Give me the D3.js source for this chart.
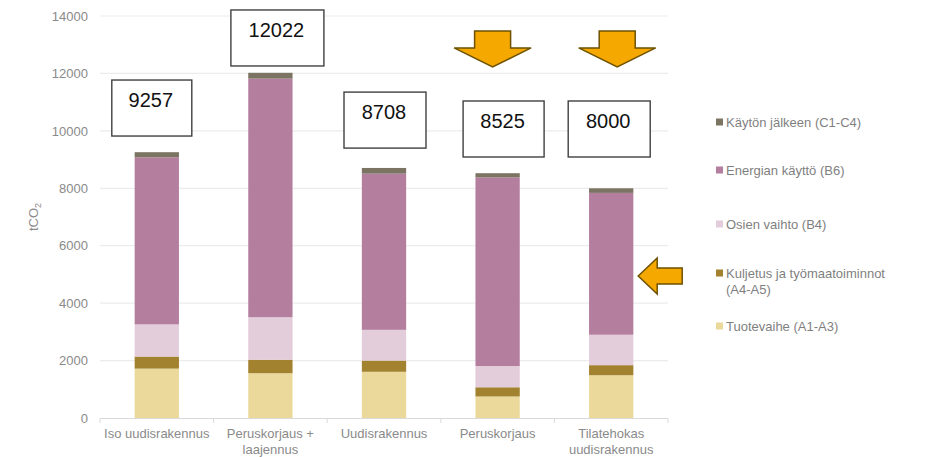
<!DOCTYPE html>
<html>
<head>
<meta charset="utf-8">
<style>
body { margin: 0; background: #fff; }
svg { font-family: "Liberation Sans", Arial, sans-serif; }
.axis .domain { display: none; }
</style>
</head>
<body>
<svg width="930" height="457"></svg>
<script src="https://d3js.org/d3.v7.min.js"></script>
<script>

// building types (x categories)
var categories = ["Iso uudisrakennus", "Peruskorjaus + laajennus", "Uudisrakennus", "Peruskorjaus", "Tilatehokas uudisrakennus"];
var categoryLines = [["Iso uudisrakennus"], ["Peruskorjaus +", "laajennus"], ["Uudisrakennus"], ["Peruskorjaus"], ["Tilatehokas", "uudisrakennus"]];

// stack series, bottom to top
var seriesNames = ["Tuotevaihe (A1-A3)", "Kuljetus ja työmaatoiminnot (A4-A5)", "Osien vaihto (B4)", "Energian käyttö (B6)", "Käytön jälkeen (C1-C4)"];
var tuotevaihe = [1720, 1560, 1610, 750, 1490];
var kuljetus   = [420, 470, 390, 320, 350];
var osienVaihto = [1120, 1480, 1070, 740, 1060];
var energia    = [5820, 8310, 5440, 6570, 4940];
var kaytonJalkeen = [177, 202, 198, 145, 160];
var totals = [9257, 12022, 8708, 8525, 8000];

var yTicks = [0, 2000, 4000, 6000, 8000, 10000, 12000, 14000];

var colors = ["#ead99b", "#a3822f", "#e3cddb", "#b47f9f", "#7b7462"];

var svg = d3.select("svg"),
    margin = {top: 16, left: 100, right: 262, bottom: 39},
    width = 930 - margin.left - margin.right,
    height = 457 - margin.top - margin.bottom;

var g = svg.append("g").attr("transform", "translate(" + margin.left + "," + margin.top + ")");

var x = d3.scaleBand()
    .domain(categories)
    .range([0, width])
    .paddingInner(0.61)
    .paddingOuter(0.305);

var y = d3.scaleLinear()
    .domain([0, 14000])
    .range([height, 0]);

var rows = categories.map(function(c, i) {
  return {cat: c, s0: tuotevaihe[i], s1: kuljetus[i], s2: osienVaihto[i], s3: energia[i], s4: kaytonJalkeen[i]};
});
var keys = ["s0", "s1", "s2", "s3", "s4"];
var stacked = d3.stack().keys(keys)(rows);

// gridlines
g.append("g")
  .selectAll("line")
  .data(yTicks.slice(1))
  .enter().append("line")
    .attr("x1", 0).attr("x2", width)
    .attr("y1", function(d) { return y(d); })
    .attr("y2", function(d) { return y(d); })
    .attr("stroke", "#ececec")
    .attr("stroke-width", 1.2);

// y axis labels
g.append("g")
    .attr("class", "axis")
    .call(d3.axisLeft(y).tickValues(yTicks).tickSize(0).tickPadding(12).tickFormat(d3.format("d")))
    .call(function(a) {
      a.selectAll("text").attr("fill", "#8a8a8a").attr("font-size", 13).attr("font-family", "Liberation Sans, Arial, sans-serif");
    });

// y title tCO2
var yt = g.append("text")
    .attr("transform", "translate(-62," + (height / 2) + ") rotate(-90)")
    .attr("text-anchor", "middle")
    .attr("fill", "#8a8a8a")
    .attr("font-size", 13);
yt.append("tspan").text("tCO");
yt.append("tspan").attr("font-size", 9).attr("dy", 3).text("2");

// bars
g.append("g")
  .selectAll("g")
  .data(stacked)
  .enter().append("g")
    .attr("fill", function(d, i) { return colors[i]; })
  .selectAll("rect")
  .data(function(d) { return d; })
  .enter().append("rect")
    .attr("x", function(d) { return x(d.data.cat); })
    .attr("y", function(d) { return y(d[1]); })
    .attr("width", x.bandwidth())
    .attr("height", function(d) { return y(d[0]) - y(d[1]); });

// x axis line and ticks at band boundaries
var step = x.step();
g.append("line")
    .attr("x1", 0).attr("x2", width)
    .attr("y1", height + 0.5).attr("y2", height + 0.5)
    .attr("stroke", "#d9d9d9");
g.append("g")
  .selectAll("line")
  .data(d3.range(categories.length + 1))
  .enter().append("line")
    .attr("x1", function(i) { return i * step; })
    .attr("x2", function(i) { return i * step; })
    .attr("y1", height).attr("y2", height + 5)
    .attr("stroke", "#d9d9d9");

// x labels
var xl = g.append("g")
  .selectAll("text")
  .data(categories)
  .enter().append("text")
    .attr("x", function(d) { return x(d) + x.bandwidth() / 2; })
    .attr("y", height + 20)
    .attr("text-anchor", "middle")
    .attr("fill", "#8a8a8a")
    .attr("font-size", 13);
xl.selectAll("tspan")
  .data(function(d, i) { return categoryLines[i]; })
  .enter().append("tspan")
    .attr("x", function() { return d3.select(this.parentNode).attr("x"); })
    .attr("dy", function(d, i) { return i ? 16 : 0; })
    .text(function(d) { return d; });

// total boxes (annotation layout: top in tCO2, centre offset in px, width in px)
var boxTop = [11770, 14210, 11350, 11040, 11040];
var boxDx = [-5, 7, 1, 6, -2];
var boxW = [80, 93, 82, 81, 82];
var boxes = g.append("g")
  .selectAll("g")
  .data(totals)
  .enter().append("g")
    .attr("transform", function(d, i) {
      return "translate(" + (x(categories[i]) + x.bandwidth() / 2 + boxDx[i]) + "," + y(boxTop[i]) + ")";
    });
boxes.append("rect")
    .attr("x", function(d, i) { return -boxW[i] / 2; })
    .attr("width", function(d, i) { return boxW[i]; })
    .attr("height", 56)
    .attr("fill", "#fff")
    .attr("stroke", "#404040")
    .attr("stroke-width", 1.4);
boxes.append("text")
    .attr("x", -1)
    .attr("y", 27)
    .attr("text-anchor", "middle")
    .attr("font-size", 20)
    .attr("fill", "#111")
    .text(function(d) { return d; });

// orange arrows
var arrowFill = "#f5a800", arrowStroke = "#6e5200";
[3, 4].forEach(function(i, k) {
  var cx = x(categories[i]) + x.bandwidth() / 2 + [-5, 6][k];
  g.append("path")
      .attr("transform", "translate(" + cx + "," + y(13480) + ")")
      .attr("d", "M-18,0 L18,0 L18,17 L38.5,17 L0,36 L-38.5,17 L-18,17 Z")
      .attr("fill", arrowFill)
      .attr("stroke", arrowStroke)
      .attr("stroke-width", 1.5)
      .attr("stroke-linejoin", "miter");
});
g.append("path")
    .attr("transform", "translate(" + (x(categories[4]) + x.bandwidth() / 2 + 27) + "," + y(4945) + ")")
    .attr("d", "M0,0 L19,-18 L19,-8 L44,-8 L44,8 L19,8 L19,18 Z")
    .attr("fill", arrowFill)
    .attr("stroke", arrowStroke)
    .attr("stroke-width", 1.5);

// legend
var legendOrder = [4, 3, 2, 1, 0];
var legendLines = [["Käytön jälkeen (C1-C4)"], ["Energian käyttö (B6)"], ["Osien vaihto (B4)"], ["Kuljetus ja työmaatoiminnot", "(A4-A5)"], ["Tuotevaihe (A1-A3)"]];
var legendY = [122, 170, 224, 273, 326];
var legend = svg.append("g")
  .selectAll("g")
  .data(legendOrder)
  .enter().append("g")
    .attr("transform", function(d, i) { return "translate(716," + legendY[i] + ")"; });
legend.append("rect")
    .attr("y", -3.5)
    .attr("width", 7)
    .attr("height", 7)
    .attr("fill", function(d) { return colors[d]; });
var lt = legend.append("text")
    .attr("x", 10)
    .attr("y", 4.5)
    .attr("fill", "#7f7f7f")
    .attr("font-size", 13);
lt.selectAll("tspan")
  .data(function(d, i) { return legendLines[i]; })
  .enter().append("tspan")
    .attr("x", 10)
    .attr("dy", function(d, i) { return i ? 16 : 0; })
    .text(function(d) { return d; });

</script>
</body>
</html>
